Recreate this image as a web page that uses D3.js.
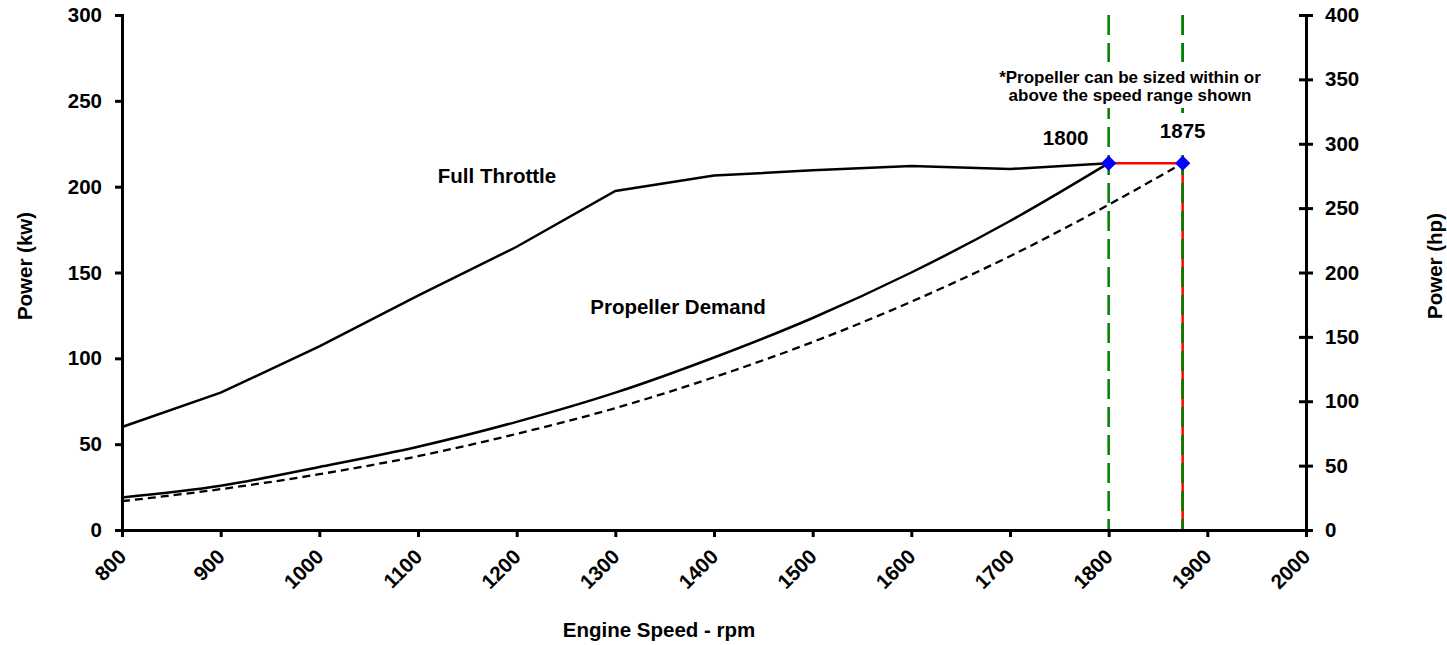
<!DOCTYPE html>
<html>
<head>
<meta charset="utf-8">
<script src="https://cdn.jsdelivr.net/npm/d3@7"></script>
<style>
	body { margin: 0; background: #fff; }
	text { font-family: Arial, "Liberation Sans", sans-serif; font-weight: bold; fill: #000; }
</style>
</head>
<body>
<div id="chart-area"></div>
<script>

// Chart data
const rpm = [800, 900, 1000, 1100, 1200, 1300, 1400, 1500, 1600, 1700, 1800];
const fullThrottle = [60, 80, 107, 136.5, 165, 197.5, 206.5, 209.5, 212, 210.3, 213.7];
const propDemand = [19, 25.8, 36.7, 48.5, 63, 80, 100.5, 123.5, 150, 180, 213.7];
const propRpmHigh = [800, 900, 1000, 1100, 1200, 1300, 1400, 1500, 1600, 1700, 1800, 1875];
const propDemandHigh = [16.8, 23.8, 32.5, 43, 56, 71, 89, 109.5, 133, 159.5, 189.5, 213.7];
const ratedRpm = [1800, 1875];
const ratedPower = 213.7;

// Tick labels
const rpmTicks = [800, 900, 1000, 1100, 1200, 1300, 1400, 1500, 1600, 1700, 1800, 1900, 2000];
const kwTicks = [0, 50, 100, 150, 200, 250, 300];
const hpTicks = [0, 50, 100, 150, 200, 250, 300, 350, 400];

// SVG Size
let width = 1447,
	height = 645;
const margin = {top: 15, right: 141, bottom: 115, left: 122};

drawChart();

function drawChart() {

	let svg = d3.select("#chart-area")
		.append("svg")
		.attr("width", width)
		.attr("height", height);

	// Scales
	const x = d3.scaleLinear()
		.domain([800, 2000])
		.range([margin.left, width - margin.right]);

	const yKw = d3.scaleLinear()
		.domain([0, 300])
		.range([height - margin.bottom, margin.top]);

	const yHp = d3.scaleLinear()
		.domain([0, 400])
		.range([height - margin.bottom, margin.top]);

	const bottom = height - margin.bottom;

	// Green dashed speed markers
	svg.selectAll(".speed-line")
		.data(ratedRpm)
		.enter()
		.append("line")
		.attr("class", "speed-line")
		.attr("x1", d => x(d))
		.attr("x2", d => x(d))
		.attr("y1", yKw(300))
		.attr("y2", bottom)
		.style("stroke", "#008000")
		.style("stroke-width", 2.5)
		.style("stroke-dasharray", "20,8");

	// Red rated power path (drawn under the 1875 green line)
	const redLine = d3.line()
		.x(d => x(d[0]))
		.y(d => yKw(d[1]));

	svg.append("path")
		.datum([[ratedRpm[0], ratedPower], [ratedRpm[1], ratedPower]])
		.attr("d", redLine)
		.style("fill", "none")
		.style("stroke", "#ff0000")
		.style("stroke-width", 2.5);

	svg.append("path")
		.datum([[ratedRpm[1], ratedPower], [ratedRpm[1], 0]])
		.attr("d", redLine)
		.style("fill", "none")
		.style("stroke", "#ff0000")
		.style("stroke-width", 2.5);

	// redraw green dashes over the red vertical
	svg.append("line")
		.attr("x1", x(ratedRpm[1]))
		.attr("x2", x(ratedRpm[1]))
		.attr("y1", yKw(300))
		.attr("y2", bottom)
		.style("stroke", "#008000")
		.style("stroke-width", 2.5)
		.style("stroke-dasharray", "20,8");

	// Full throttle (straight segments)
	const straight = d3.line()
		.x((d, i) => x(rpm[i]))
		.y(d => yKw(d));

	svg.append("path")
		.datum(fullThrottle)
		.attr("d", straight)
		.style("fill", "none")
		.style("stroke", "#000")
		.style("stroke-width", 2.5);

	// Propeller demand curves (smoothed)
	const smooth = d3.line()
		.x(d => x(d[0]))
		.y(d => yKw(d[1]))
		.curve(d3.curveMonotoneX);

	svg.append("path")
		.datum(rpm.map((r, i) => [r, propDemand[i]]))
		.attr("d", smooth)
		.style("fill", "none")
		.style("stroke", "#000")
		.style("stroke-width", 2.5);

	svg.append("path")
		.datum(propRpmHigh.map((r, i) => [r, propDemandHigh[i]]))
		.attr("d", smooth)
		.style("fill", "none")
		.style("stroke", "#000")
		.style("stroke-width", 2.3)
		.style("stroke-dasharray", "8,5");

	// Blue diamonds at rated points
	svg.selectAll(".rated")
		.data(ratedRpm)
		.enter()
		.append("path")
		.attr("class", "rated")
		.attr("transform", d => "translate(" + x(d) + "," + yKw(ratedPower) + ")")
		.attr("d", d3.symbol(d3.symbolDiamond2, 150))
		.style("fill", "#0000ff");

	// Axes
	const xAxis = d3.axisBottom(x).tickValues(rpmTicks).tickSize(7).tickFormat(d3.format("d"));
	const yAxisLeft = d3.axisLeft(yKw).tickValues(kwTicks).tickSize(7);
	const yAxisRight = d3.axisRight(yHp).tickValues(hpTicks).tickSize(7);

	let gx = svg.append("g")
		.attr("class", "x-axis")
		.attr("transform", "translate(0," + bottom + ")")
		.call(xAxis);

	gx.selectAll("text")
		.attr("text-anchor", "end")
		.attr("x", 0)
		.attr("y", 0)
		.attr("dy", 0)
		.attr("transform", "translate(5,28) rotate(-45)");

	let gl = svg.append("g")
		.attr("class", "y-axis")
		.attr("transform", "translate(" + margin.left + ",0)")
		.call(yAxisLeft);
	gl.selectAll("text").attr("x", -20);

	let gr = svg.append("g")
		.attr("class", "y-axis-right")
		.attr("transform", "translate(" + (width - margin.right) + ",0)")
		.call(yAxisRight);
	gr.selectAll(".tick line").attr("x1", -7);
	gr.selectAll("text").attr("x", 19);

	svg.selectAll(".domain, .tick line")
		.style("stroke", "#000")
		.style("stroke-width", 3);
	svg.selectAll(".tick text")
		.style("font-size", "20.5px")
		.style("font-family", "Arial, 'Liberation Sans', sans-serif")
		.style("font-weight", "bold");

	// Note box with white background covering the green lines
	const note = svg.append("g");
	note.append("rect")
		.attr("x", 997)
		.attr("y", 62)
		.attr("width", 266)
		.attr("height", 46)
		.style("fill", "#fff");
	note.append("text")
		.attr("text-anchor", "middle")
		.attr("x", 1130)
		.attr("y", 83)
		.style("font-size", "17px")
		.text("*Propeller can be sized within or");
	note.append("text")
		.attr("text-anchor", "middle")
		.attr("x", 1130)
		.attr("y", 101)
		.style("font-size", "17px")
		.text("above the speed range shown");

	// Speed labels
	svg.append("rect")
		.attr("x", x(1875) - 24)
		.attr("y", 113)
		.attr("width", 48)
		.attr("height", 34)
		.style("fill", "#fff");
	svg.append("text")
		.attr("text-anchor", "middle")
		.attr("x", x(1800) - 43)
		.attr("y", 145)
		.style("font-size", "20.5px")
		.text("1800");
	svg.append("text")
		.attr("text-anchor", "middle")
		.attr("x", x(1875))
		.attr("y", 138)
		.style("font-size", "20.5px")
		.text("1875");

	// Curve labels
	svg.append("text")
		.attr("text-anchor", "middle")
		.attr("x", 497)
		.attr("y", 183)
		.style("font-size", "20.5px")
		.text("Full Throttle");
	svg.append("text")
		.attr("text-anchor", "middle")
		.attr("x", 678)
		.attr("y", 314)
		.style("font-size", "20.5px")
		.text("Propeller Demand");

	// Axis titles
	svg.append("text")
		.attr("text-anchor", "middle")
		.attr("x", 659)
		.attr("y", 637)
		.style("font-size", "20.5px")
		.text("Engine Speed - rpm");

	svg.append("text")
		.attr("text-anchor", "middle")
		.attr("transform", "translate(32,266) rotate(-90)")
		.style("font-size", "20.5px")
		.text("Power (kw)");

	svg.append("text")
		.attr("text-anchor", "middle")
		.attr("transform", "translate(1442,266) rotate(-90)")
		.style("font-size", "20.5px")
		.text("Power (hp)");
}

</script>
</body>
</html>
